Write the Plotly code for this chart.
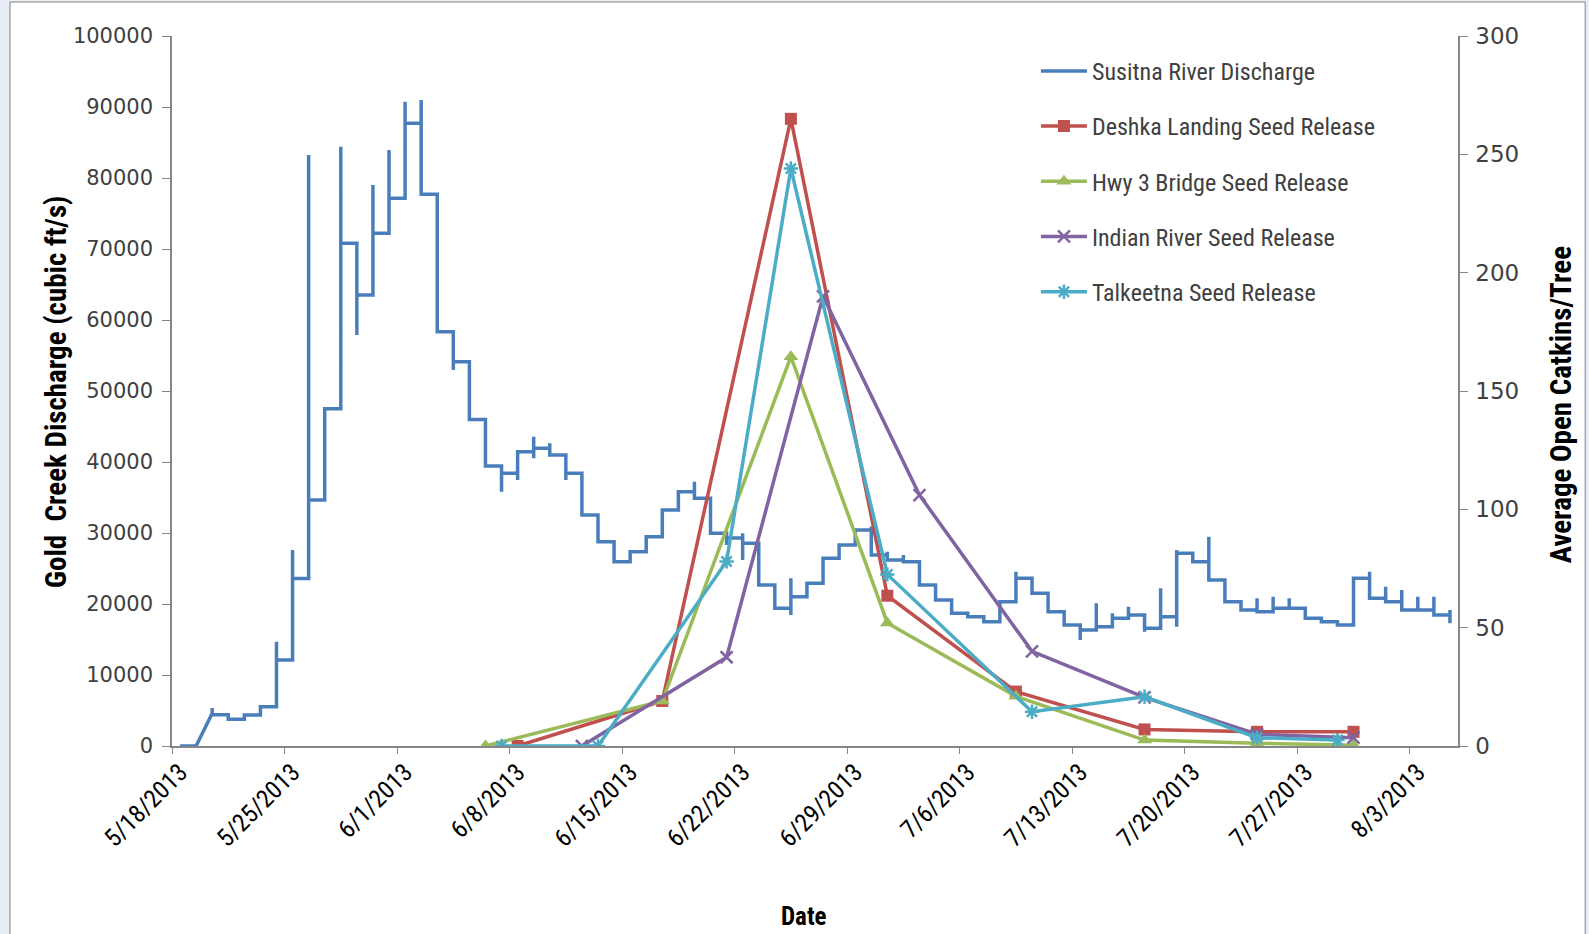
import plotly.graph_objects as go
from datetime import datetime, timedelta

# ---------------- data ----------------
start_date = "2013-05-18"
n_days = 80

# Susitna River discharge at Gold Creek (cubic ft/s): last reading of each day, day 0 = 5/18/2013
q_last = [0, 0, 4400, 3760, 4370, 5540, 12100, 23600, 34650, 47500,
          70800, 63520, 72210, 77140, 87700, 77700, 58350, 54130, 46000, 39440,
          38400, 41450, 41930, 41000, 38400, 32540, 28780, 25960, 27370, 29480,
          33240, 35820, 34890, 29960, 29300, 28550, 22680, 19400, 21030, 22920,
          26440, 28310, 30420, 26900, 26200, 25960, 22680, 20560, 18690, 18210,
          17510, 20330, 23620, 21510, 18920, 17040, 16340, 16810, 17990, 18450,
          16580, 18210, 27140, 25960, 23380, 20330, 19150, 18920, 19390, 19390,
          17990, 17510, 17040, 23620, 20800, 20330, 19150, 19150, 18450, 17280]
# first reading of a day when it differs from the previous day's last reading
first_day = [2]
first_q = [4600]
# intra-day extreme readings (day index, discharge)
spike_day = [2, 6, 7, 8, 10, 11, 12, 13, 14, 15, 17, 20, 21, 22, 22, 23, 24, 32,
             34, 34, 35, 35, 38, 38, 43, 44, 45, 52, 56, 57, 58, 59, 60, 61, 62, 62,
             64, 67, 68, 69, 72, 74, 75, 76, 77, 78, 79]
spike_q = [5350, 14700, 27600, 83240, 84410, 57890, 79020, 83950, 90750, 91000, 52960,
           35820, 37470, 43560, 40520, 42640, 37470, 37230, 30300, 28300, 29960, 26200,
           23620, 18450, 30900, 27370, 26900, 24550, 14930, 20100, 18690, 19620, 16100,
           22210, 27610, 16810, 29480, 20800, 21030, 20800, 16810, 24550, 22440, 21970,
           21030, 21030, 19150]

# Average open catkins per tree
deshka_dates = ["2013-06-08", "2013-06-17", "2013-06-25", "2013-07-01", "2013-07-09",
                "2013-07-17", "2013-07-24", "2013-07-30"]
deshka_vals = [0, 19, 265, 63.5, 23, 7, 6, 6]
hwy3_dates = ["2013-06-06", "2013-06-17", "2013-06-25", "2013-07-01", "2013-07-09",
              "2013-07-17", "2013-07-24", "2013-07-30"]
hwy3_vals = [0, 19, 164.5, 52, 21, 2.5, 1.2, 0.3]
indian_dates = ["2013-06-12", "2013-06-21", "2013-06-27", "2013-07-03", "2013-07-10",
                "2013-07-17", "2013-07-24", "2013-07-30"]
indian_vals = [0, 37.5, 190, 106, 40, 20.5, 5, 3.5]
talk_dates = ["2013-06-07", "2013-06-13", "2013-06-21", "2013-06-25", "2013-07-01",
              "2013-07-10", "2013-07-17", "2013-07-24", "2013-07-29"]
talk_vals = [0, 0, 78, 244, 72.5, 14.5, 20.8, 3.5, 2.5]

tick_dates = ["2013-05-18", "2013-05-25", "2013-06-01", "2013-06-08", "2013-06-15",
              "2013-06-22", "2013-06-29", "2013-07-06", "2013-07-13", "2013-07-20",
              "2013-07-27", "2013-08-03"]
tick_labels = ["5/18/2013", "5/25/2013", "6/1/2013", "6/8/2013", "6/15/2013",
               "6/22/2013", "6/29/2013", "7/6/2013", "7/13/2013", "7/20/2013",
               "7/27/2013", "8/3/2013"]

# ---------------- build ----------------
t0 = datetime.strptime(start_date, "%Y-%m-%d")
half = timedelta(hours=12)  # points sit in the middle of each day slot


def day(dstr):
    return datetime.strptime(dstr, "%Y-%m-%d")


def slot(dstr):
    return day(dstr) + half


qx, qy = [], []
prev = None
for d in range(n_days):
    xd = t0 + timedelta(days=d) + half
    first = first_q[first_day.index(d)] if d in first_day else (prev if prev is not None else q_last[d])
    vals = [first] + [spike_q[i] for i, sd in enumerate(spike_day) if sd == d] + [q_last[d]]
    for v in vals:
        qx.append(xd)
        qy.append(v)
    prev = q_last[d]

NARROW = "Liberation Sans Narrow, Arial Narrow, Roboto Condensed, sans-serif"

fig = go.Figure()
fig.add_trace(go.Scatter(x=qx, y=qy, mode="lines", name="Susitna River Discharge",
                         line=dict(color="#4A7EBB", width=3.5), legendgroup="a"))
fig.add_trace(go.Scatter(x=[slot(d) for d in deshka_dates], y=deshka_vals, yaxis="y2",
                         mode="lines+markers", name="Deshka Landing Seed Release",
                         line=dict(color="#C0504D", width=3.5),
                         marker=dict(symbol="square", size=12, color="#C0504D"), legendgroup="b"))
fig.add_trace(go.Scatter(x=[slot(d) for d in hwy3_dates], y=hwy3_vals, yaxis="y2",
                         mode="lines+markers", name="Hwy 3 Bridge Seed Release",
                         line=dict(color="#9BBB59", width=3.5),
                         marker=dict(symbol="triangle-up", size=13, color="#9BBB59"), legendgroup="c"))
fig.add_trace(go.Scatter(x=[slot(d) for d in indian_dates], y=indian_vals, yaxis="y2",
                         mode="lines+markers", name="Indian River Seed Release",
                         line=dict(color="#8064A2", width=3.5),
                         marker=dict(symbol="x-thin-open", size=12, color="#8064A2",
                                     line=dict(width=2.5, color="#8064A2")), legendgroup="d"))
fig.add_trace(go.Scatter(x=[slot(d) for d in talk_dates], y=talk_vals, yaxis="y2",
                         mode="lines+markers", name="Talkeetna Seed Release",
                         line=dict(color="#4BACC6", width=3.5),
                         marker=dict(symbol="asterisk-open", size=12, color="#4BACC6",
                                     line=dict(width=2.5, color="#4BACC6")), legendgroup="e"))

axis_col = "#868686"
fig.update_layout(
    width=1589, height=934,
    margin=dict(l=172, r=131, t=36, b=188),
    paper_bgcolor="#E9EEF6", plot_bgcolor="rgba(0,0,0,0)",
    showlegend=True,
    legend=dict(x=0.6718, y=0.982, xanchor="left", yanchor="top", bgcolor="rgba(0,0,0,0)",
                font=dict(family=NARROW, size=24, color="#404040"),
                tracegroupgap=21, traceorder="grouped", itemwidth=46),
    xaxis=dict(type="date", range=[t0, t0 + timedelta(days=n_days)],
               tickvals=[slot(d) for d in tick_dates],
               ticktext=tick_labels, tickangle=-45, ticks="",
               minor=dict(tickvals=[day(d) for d in tick_dates], ticks="outside", ticklen=6,
                          tickcolor=axis_col, showgrid=False),
               showline=True, linecolor=axis_col, linewidth=1.5,
               showgrid=False, zeroline=False,
               tickfont=dict(family=NARROW, size=25, color="#000000")),
    yaxis=dict(range=[0, 100000], dtick=10000, tickformat="d", ticks="outside", ticklen=8,
               tickcolor=axis_col, showline=True, linecolor=axis_col, linewidth=1.5,
               showgrid=False, zeroline=False, ticklabelstandoff=5,
               tickfont=dict(family="DejaVu Sans", size=21, color="#404040")),
    yaxis2=dict(range=[0, 300], dtick=50, overlaying="y", side="right", ticks="outside",
                ticklen=8, tickcolor=axis_col, showline=True, linecolor=axis_col, linewidth=1.5,
                showgrid=False, zeroline=False, ticklabelstandoff=3,
                tickfont=dict(family="DejaVu Sans", size=23, color="#404040")),
    shapes=[dict(type="rect", xref="paper", yref="paper", x0=-0.126, x1=1.099, y0=-0.27, y1=1.048,
                 fillcolor="white", line=dict(color="#A6A6A6", width=1.5), layer="below")],
    annotations=[
        dict(text="<b>Gold  Creek Discharge (cubic ft/s)</b>", textangle=-90, xref="paper", yref="paper",
             x=-0.0902, y=0.4986, xanchor="center", yanchor="middle", showarrow=False,
             font=dict(family=NARROW, size=29, color="#000000")),
        dict(text="<b>Average Open Catkins/Tree</b>", textangle=-90, xref="paper", yref="paper",
             x=1.0801, y=0.48, xanchor="center", yanchor="middle", showarrow=False,
             font=dict(family=NARROW, size=29, color="#000000")),
        dict(text="<b>Date</b>", xref="paper", yref="paper", x=0.4911, y=-0.2408,
             xanchor="center", yanchor="middle",
             showarrow=False, font=dict(family=NARROW, size=25, color="#000000")),
    ],
)

fig.write_html("out.html", config={"displayModeBar": False},
               post_script="document.body.style.margin='0';")
